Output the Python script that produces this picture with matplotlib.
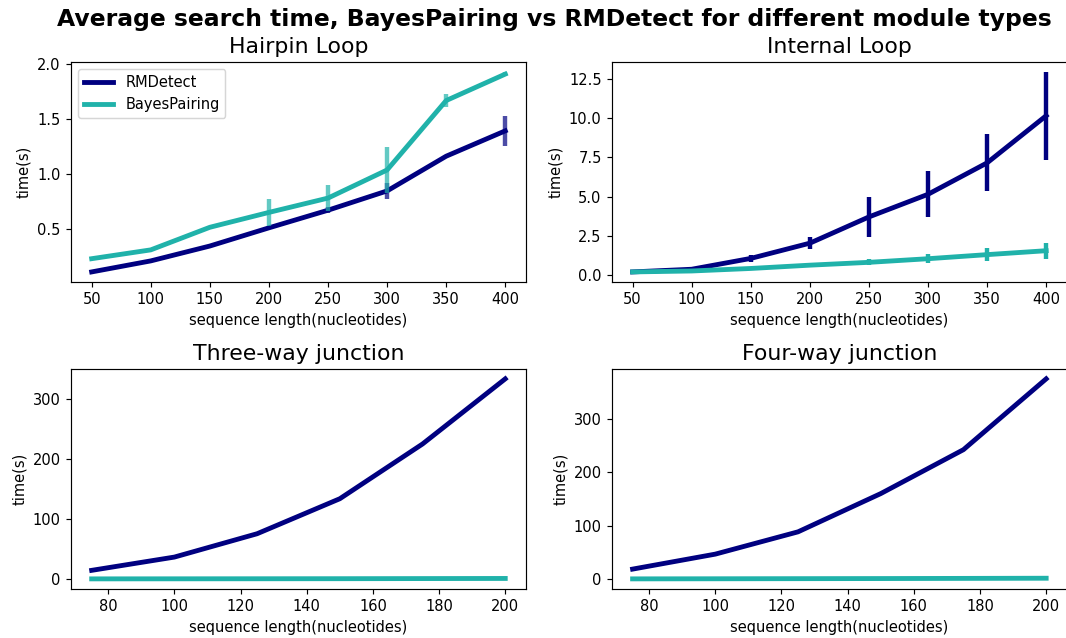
import numpy as np
import matplotlib
matplotlib.use('Agg')
import matplotlib.pyplot as plt

# Longitudes de secuencia
len_top = [50, 100, 150, 200, 250, 300, 350, 400]
len_bottom = [75, 100, 125, 150, 175, 200]

# Hairpin Loop
hp_rmd = [0.11, 0.21, 0.345, 0.51, 0.67, 0.845, 1.16, 1.39]
hp_rmd_err = [0.0, 0.0, 0.01, 0.0, 0.025, 0.075, 0.0, 0.136]
hp_bp = [0.23, 0.31, 0.515, 0.65, 0.78, 1.035, 1.665, 1.905]
hp_bp_err = [0.0, 0.0, 0.0, 0.124, 0.118, 0.21, 0.058, 0.02]

# Internal Loop
il_rmd = [0.21, 0.38, 1.07, 2.04, 3.71, 5.15, 7.15, 10.15]
il_rmd_err = [0.0, 0.0, 0.21, 0.39, 1.26, 1.47, 1.82, 2.79]
il_bp = [0.21, 0.27, 0.43, 0.64, 0.82, 1.05, 1.31, 1.56]
il_bp_err = [0.0, 0.0, 0.08, 0.08, 0.2, 0.28, 0.42, 0.52]

# Three-way / Four-way junction
tw_rmd = [14.5, 36.6, 75.5, 133.8, 225.0, 333.5]
tw_bp = [0.3, 0.4, 0.5, 0.6, 0.8, 1.0]
fw_rmd = [18.7, 46.8, 88.6, 160.3, 242.7, 375.5]
fw_bp = [0.4, 0.6, 0.8, 1.0, 1.3, 1.6]

c_rmd = 'navy'
c_bp = 'lightseagreen'
lw = 3.3

dpi = 105.5
fig, axes = plt.subplots(2, 2, figsize=(1066 / dpi, 638 / dpi), dpi=dpi)
fig.subplots_adjust(left=0.0666, right=1.0008, top=0.903, bottom=0.077,
                    wspace=0.189, hspace=0.395)
fig.suptitle('Average search time, BayesPairing vs RMDetect for different module types',
             fontsize=16, fontweight='bold', x=0.52, y=0.988)

# Hairpin
ax = axes[0, 0]
ax.plot(len_top, hp_rmd, color=c_rmd, lw=lw, label='RMDetect')
ax.plot(len_top, hp_bp, color=c_bp, lw=lw, label='BayesPairing')
ax.errorbar(len_top, hp_rmd, yerr=hp_rmd_err, fmt='none', ecolor=c_rmd, elinewidth=3, alpha=0.7)
ax.errorbar(len_top, hp_bp, yerr=hp_bp_err, fmt='none', ecolor=c_bp, elinewidth=3, alpha=0.7)
ax.set_title('Hairpin Loop', fontsize=15)
ax.legend(loc='upper left', fontsize=10)

# Internal
ax = axes[0, 1]
ax.errorbar(len_top, il_rmd, yerr=il_rmd_err, color=c_rmd, lw=lw, elinewidth=3)
ax.errorbar(len_top, il_bp, yerr=il_bp_err, color=c_bp, lw=lw, elinewidth=3)
ax.set_title('Internal Loop', fontsize=15)

# Three-way
ax = axes[1, 0]
ax.plot(len_bottom, tw_rmd, color=c_rmd, lw=lw)
ax.plot(len_bottom, tw_bp, color=c_bp, lw=lw)
ax.set_title('Three-way junction', fontsize=15)

# Four-way
ax = axes[1, 1]
ax.plot(len_bottom, fw_rmd, color=c_rmd, lw=lw)
ax.plot(len_bottom, fw_bp, color=c_bp, lw=lw)
ax.set_title('Four-way junction', fontsize=15)

for ax in axes.flat:
    ax.set_xlabel('sequence length(nucleotides)', fontsize=10)
    ax.set_ylabel('time(s)', fontsize=10)

fig.savefig('out.png', dpi=dpi)
